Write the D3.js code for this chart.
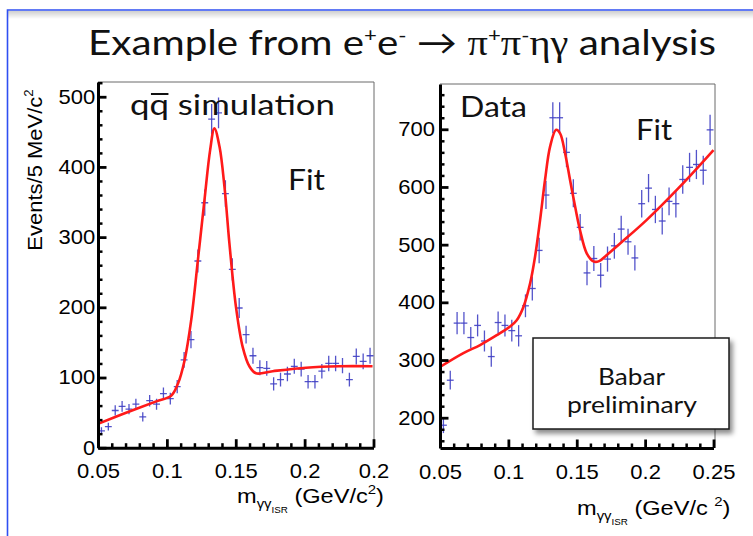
<!DOCTYPE html>
<html>
<head>
<meta charset="utf-8">
<script src="https://cdn.jsdelivr.net/npm/d3@7"></script>
<style>
  html, body { margin: 0; padding: 0; background: #fff; }
  svg { display: block; }
</style>
</head>
<body>
<svg id="chart" width="753" height="536"></svg>
<script>
// m(gamma gamma_ISR) bin centres, 5 MeV/c^2 bins (GeV/c^2)
const massBins = [
  0.0525, 0.0575, 0.0625, 0.0675, 0.0725, 0.0775, 0.0825, 0.0875, 0.0925, 0.0975,
  0.1025, 0.1075, 0.1125, 0.1175, 0.1225, 0.1275, 0.1325, 0.1375, 0.1425, 0.1475,
  0.1525, 0.1575, 0.1625, 0.1675, 0.1725, 0.1775, 0.1825, 0.1875, 0.1925, 0.1975,
  0.2025, 0.2075, 0.2125, 0.2175, 0.2225, 0.2275, 0.2325, 0.2375, 0.2425, 0.2475
];
const binHalfWidth = 0.0025;

// q-qbar simulation: events per bin and their errors
const simCounts = [
  24, 30, 53, 59, 55, 62, 44, 67, 62, 77,
  70, 87, 125, 154, 266, 349, 468, 477, 362, 254,
  199, 161, 131, 114, 113, 91, 97, 105, 116, 112,
  94, 94, 109, 120, 120, 117, 97, 130, 123, 131
];
const simErrors = [
  5, 5.5, 7.3, 7.7, 7.4, 7.9, 6.6, 8.2, 7.9, 8.8,
  8.4, 9.3, 11.2, 12.4, 16.3, 18.7, 21.6, 21.8, 19, 15.9,
  14.1, 12.7, 11.4, 10.7, 10.6, 9.5, 9.8, 10.2, 10.8, 10.6,
  9.7, 9.7, 10.4, 11, 11, 10.8, 9.8, 11.4, 11.1, 11.4
];

// Data: events per bin and their errors
const dataCounts = [
  187, 265, 364, 364, 339, 360, 333, 306, 365, 360,
  351, 342, 394, 424, 490, 586, 720, 720, 660, 589,
  530, 451, 476, 447, 475, 498, 527, 505, 477, 571,
  598, 561, 541, 575, 571, 613, 634, 639, 629, 699
];
const dataErrors = [
  13.7, 16.3, 19.1, 19.1, 18.4, 19, 18.2, 17.5, 19.1, 19,
  18.7, 18.5, 19.8, 20.6, 22.1, 24.2, 26.8, 26.8, 25.7, 24.3,
  23, 21.2, 21.8, 21.1, 21.8, 22.3, 23, 22.5, 21.8, 23.9,
  24.5, 23.7, 23.3, 24, 23.9, 24.8, 25.2, 25.3, 25.1, 26.4
];

// Fitted curves (mass, events)
const simFitMass = [0.05, 0.068, 0.0923, 0.1031, 0.108, 0.1128, 0.1176, 0.1225, 0.1273, 0.1314,
  0.1345, 0.1382, 0.1418, 0.1454, 0.1502, 0.1551, 0.1599, 0.1647, 0.1768, 0.201, 0.2251, 0.2493];
const simFitCounts = [34, 48, 66, 74, 91, 124, 181, 267, 353, 424,
  455, 429, 372, 291, 200, 143, 116, 106, 109, 114, 116, 116];

const dataFitMass = [0.05, 0.0671, 0.0793, 0.0915, 0.1012, 0.1061, 0.111, 0.1159, 0.1195, 0.1232,
  0.1268, 0.1305, 0.1349, 0.1378, 0.1415, 0.1451, 0.1488, 0.1524, 0.1573, 0.1622,
  0.1659, 0.172, 0.1817, 0.2012, 0.2256, 0.25];
const dataFitCounts = [288, 312, 326, 343, 358, 369, 392, 433, 479, 543,
  612, 670, 699, 693, 658, 612, 566, 525, 485, 471,
  471, 482, 502, 543, 601, 664];

// Axis ticks and labels
const massTicks = [0.05, 0.1, 0.15, 0.2, 0.25];
const simMassTickLabels = ["0.05", "0.1", "0.15", "0.2", "0.2"];
const dataMassTickLabels = ["0.05", "0.1", "0.15", "0.2", "0.25"];
const simCountTicks = [0, 100, 200, 300, 400, 500];
const dataCountTicks = [200, 300, 400, 500, 600, 700];

const svg = d3.select("#chart");
const SANS = "'Liberation Sans', Arial, Helvetica, sans-serif";
const SLIDE = "Lato, 'Open Sans', sans-serif";
const SERIF = "'Liberation Serif', 'Times New Roman', serif";

const defs = svg.append("defs");
const shadow = defs.append("filter").attr("id", "boxShadow")
  .attr("x", "-10%").attr("y", "-10%").attr("width", "130%").attr("height", "140%");
shadow.append("feDropShadow").attr("dx", 3).attr("dy", 4).attr("stdDeviation", 2.5)
  .attr("flood-color", "#000").attr("flood-opacity", 0.45);

const topShade = defs.append("linearGradient").attr("id", "topShade")
  .attr("x1", 0).attr("y1", 0).attr("x2", 0).attr("y2", 1);
topShade.append("stop").attr("offset", 0).attr("stop-color", "#cfcfcf");
topShade.append("stop").attr("offset", 1).attr("stop-color", "#ffffff");

// slide frame
svg.append("rect").attr("x", 8).attr("y", 11).attr("width", 745).attr("height", 8)
  .attr("fill", "url(#topShade)");
svg.append("path").attr("d", "M7.5,536V10H753")
  .attr("fill", "none").attr("stroke", "#2f4ff2").attr("stroke-width", 1.6);

// slide-style text: given size, scaled horizontally to a target advance width
function slideText(x, y, size, width, build) {
  const t = svg.append("text").attr("font-family", SLIDE).attr("font-size", size).attr("fill", "#111");
  build(t);
  const len = t.node().getComputedTextLength();
  t.attr("transform", `translate(${x},${y}) scale(${width / len},1)`);
  return t;
}

// title
slideText(88, 55, 35, 628, title => {
  title.append("tspan").text("Example from e");
  title.append("tspan").attr("font-size", "0.55em").attr("dy", -13).text("+");
  title.append("tspan").attr("dy", 13).text("e");
  title.append("tspan").attr("font-size", "0.55em").attr("dy", -13).text("-");
  title.append("tspan").attr("dy", 13).text(" \u2192 ");
  title.append("tspan").attr("font-family", SERIF).text("\u03c0");
  title.append("tspan").attr("font-size", "0.55em").attr("dy", -13).text("+");
  title.append("tspan").attr("font-family", SERIF).attr("dy", 13).text("\u03c0");
  title.append("tspan").attr("font-size", "0.55em").attr("dy", -13).text("-");
  title.append("tspan").attr("font-family", SERIF).attr("dy", 13).text("\u03b7\u03b3");
  title.append("tspan").text(" analysis");
});

function drawPanel(cfg) {
  const { x, y, counts, errors, fitMass, fitCounts, ticksY, tickLabelsX, id } = cfg;
  const [x0] = x.range();
  const [yBot, yTop] = y.range();
  const g = svg.append("g");

  // thin frame on top and right
  g.append("path").attr("d", `M${x0},${yTop}H${cfg.frameRight}V${yBot}`)
    .attr("fill", "none").attr("stroke", "#6a6a6a").attr("stroke-width", 1);

  defs.append("clipPath").attr("id", id).append("rect")
    .attr("x", x0).attr("y", yTop).attr("width", cfg.frameRight - x0).attr("height", yBot - yTop);

  // data points with error bars
  const pts = g.append("g").attr("stroke", "#4040c4").attr("stroke-width", 1.3)
    .attr("stroke-opacity", 0.9).attr("clip-path", `url(#${id})`);
  massBins.forEach((m, i) => {
    pts.append("line").attr("x1", x(m)).attr("x2", x(m))
      .attr("y1", y(counts[i] - errors[i])).attr("y2", y(counts[i] + errors[i]));
    pts.append("line").attr("x1", x(m - binHalfWidth)).attr("x2", x(m + binHalfWidth))
      .attr("y1", y(counts[i])).attr("y2", y(counts[i]));
  });

  // fit curve
  const line = d3.line().x(d => x(d[0])).y(d => y(d[1])).curve(d3.curveCatmullRom.alpha(0.5));
  g.append("path").datum(fitMass.map((m, i) => [m, fitCounts[i]]))
    .attr("d", line).attr("fill", "none").attr("stroke", "#ff1a1a")
    .attr("stroke-width", 2.6).attr("clip-path", `url(#${id})`);

  const styleLabels = s => s.selectAll(".tick text")
    .attr("font-family", SANS).attr("font-size", 20).attr("fill", "#000")
    .attr("transform", "scale(1.1,1)");

  // minor ticks
  const majorX = new Set(massTicks.map(d => d.toFixed(3)));
  g.append("g").attr("transform", `translate(0,${yBot})`)
    .call(d3.axisBottom(x).tickValues(x.ticks(20).filter(d => !majorX.has(d.toFixed(3))))
      .tickSize(-4.5).tickSizeOuter(0).tickFormat(""))
    .call(s => s.select(".domain").remove())
    .call(s => s.selectAll(".tick line").attr("stroke-width", 2.5));
  const majorY = new Set(ticksY);
  g.append("g").attr("transform", `translate(${x0},0)`)
    .call(d3.axisLeft(y).tickValues(y.ticks(30).filter(d => !majorY.has(d)))
      .tickSize(-4.5).tickSizeOuter(0).tickFormat(""))
    .call(s => s.select(".domain").remove())
    .call(s => s.selectAll(".tick line").attr("stroke-width", 2.5));

  // major axes
  g.append("g").attr("transform", `translate(0,${yBot})`)
    .call(d3.axisBottom(x).tickValues(massTicks).tickSize(-8.5).tickSizeOuter(0)
      .tickPadding(16.5).tickFormat((d, i) => tickLabelsX[i]))
    .call(s => s.select(".domain").attr("stroke", "#000").attr("stroke-width", 3))
    .call(s => s.selectAll(".tick line").attr("stroke-width", 2.8))
    .call(styleLabels);
  g.append("g").attr("transform", `translate(${x0},0)`)
    .call(d3.axisLeft(y).tickValues(ticksY).tickSize(-8.5).tickSizeOuter(0)
      .tickPadding(cfg.labelPad))
    .call(s => s.select(".domain").attr("stroke", "#000").attr("stroke-width", 3))
    .call(s => s.selectAll(".tick line").attr("stroke-width", 2.8))
    .call(styleLabels);

  // x axis title: m_{gamma gamma_ISR} (GeV/c^2)
  const t = g.append("text")
    .attr("transform", `translate(${cfg.titleX},${cfg.titleY}) scale(1.15,1)`)
    .attr("font-family", SANS).attr("font-size", 20.5).attr("fill", "#000");
  t.append("tspan").text("m");
  t.append("tspan").attr("font-size", 13).attr("dy", 5).text("\u03b3\u03b3");
  t.append("tspan").attr("font-size", 8.5).attr("dy", 5).text("ISR");
  t.append("tspan").attr("dy", -10).text(" (GeV/c" + cfg.supGap);
  t.append("tspan").attr("font-size", 13).attr("dy", -9).text("2");
  t.append("tspan").attr("dy", 9).text(")");
  return g;
}

const xSim = d3.scaleLinear([0.05, 0.25], [98, 373.5]);
const ySim = d3.scaleLinear([0, 521], [447.7, 82]);
drawPanel({
  id: "clipSim", x: xSim, y: ySim, counts: simCounts, errors: simErrors,
  fitMass: simFitMass, fitCounts: simFitCounts, ticksY: simCountTicks,
  tickLabelsX: simMassTickLabels, frameRight: 374, labelPad: 2.5,
  titleX: 237, titleY: 503, supGap: ""
});

const xData = d3.scaleLinear([0.05, 0.25], [440, 713.5]);
const yData = d3.scaleLinear([147.5, 778.5], [448, 84]);
drawPanel({
  id: "clipData", x: xData, y: yData, counts: dataCounts, errors: dataErrors,
  fitMass: dataFitMass, fitCounts: dataFitCounts, ticksY: dataCountTicks,
  tickLabelsX: dataMassTickLabels, frameRight: 715, labelPad: 4.5,
  titleX: 577, titleY: 515, supGap: " "
});

// y axis title
const yt = svg.append("text")
  .attr("transform", "translate(42,170) rotate(-90) scale(1.1,1)")
  .attr("text-anchor", "middle").attr("font-family", SANS).attr("font-size", 20).attr("fill", "#000");
yt.append("tspan").text("Events/5 MeV/c");
yt.append("tspan").attr("font-size", 12).attr("dy", -9).text("2");

// panel annotations
const simLabel = slideText(130, 115, 29, 205, t => t.text("qq simulation"));
{
  const n = simLabel.node();
  const a = n.getStartPositionOfChar(1).x, b = n.getEndPositionOfChar(1).x;
  const sx = 205 / n.getComputedTextLength();
  svg.append("line").attr("x1", 130 + a * sx + 1.5).attr("x2", 130 + b * sx - 0.5)
    .attr("y1", 94).attr("y2", 94).attr("stroke", "#111").attr("stroke-width", 2);
}
slideText(288, 190, 28, 37, t => t.text("Fit"));
slideText(460, 117, 28, 67, t => t.text("Data"));
slideText(636, 140, 28, 36, t => t.text("Fit"));

// "Babar preliminary" box
svg.append("rect").attr("x", 533).attr("y", 338).attr("width", 196).attr("height", 91)
  .attr("fill", "#fff").attr("stroke", "#1a1a1a").attr("stroke-width", 1.5)
  .attr("filter", "url(#boxShadow)");
slideText(598, 385, 23, 67, t => t.text("Babar"));
slideText(567, 413, 23, 130, t => t.text("preliminary"));
</script>
</body>
</html>
